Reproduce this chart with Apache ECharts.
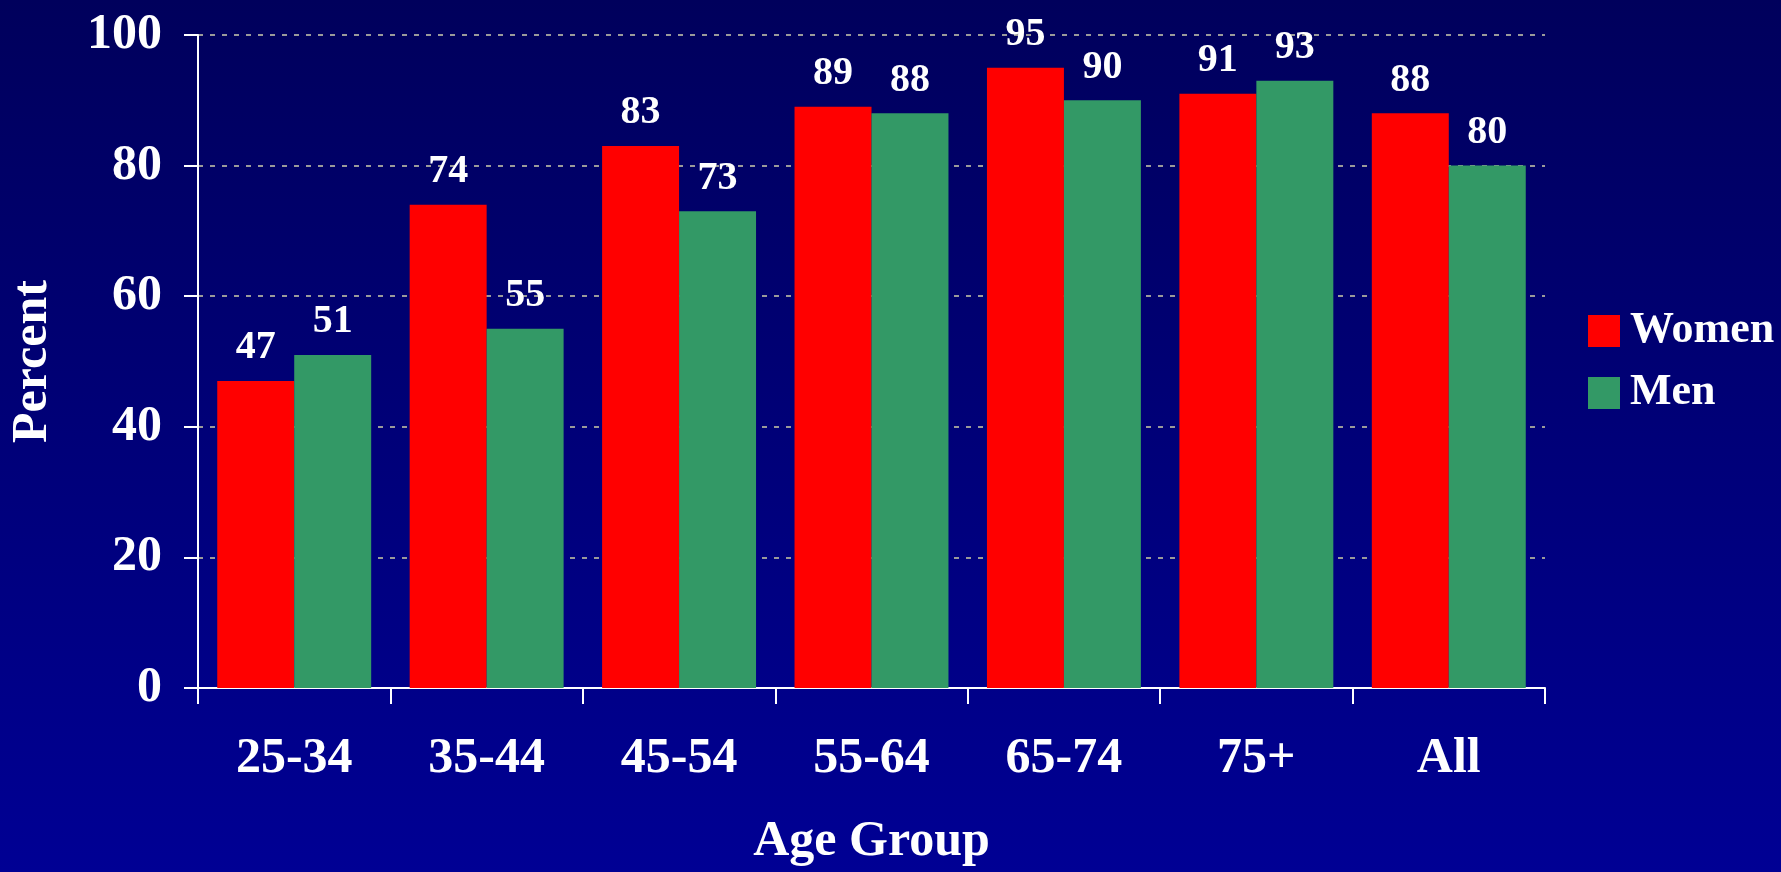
<!DOCTYPE html>
<html>
<head>
<meta charset="utf-8">
<script src="https://cdn.jsdelivr.net/npm/echarts@6/dist/echarts.min.js"></script>
<style>
  html, body { margin: 0; padding: 0; background: #000070; }
  #chart { width: 1781px; height: 872px; }
</style>
</head>
<body>
<div id="chart"></div>
<script>
// Age groups along the x axis
const categories = ['25-34', '35-44', '45-54', '55-64', '65-74', '75+', 'All'];
// Percent by sex
const women = [47, 74, 83, 89, 95, 91, 88];
const men = [51, 55, 73, 88, 90, 93, 80];
// Y axis ticks
const yTicks = [0, 20, 40, 60, 80, 100];

const FONT = '"Liberation Serif", "Times New Roman", serif';

const chart = echarts.init(document.getElementById('chart'), null, { renderer: 'canvas' });

const valueLabel = {
  show: true,
  position: 'top',
  distance: 13,
  color: '#ffffff',
  fontFamily: FONT,
  fontWeight: 'bold',
  fontSize: 40,
  lineHeight: 40
};

chart.setOption({
  animation: false,
  backgroundColor: {
    type: 'linear', x: 0, y: 0, x2: 0, y2: 1,
    colorStops: [
      { offset: 0, color: '#00005c' },
      { offset: 1, color: '#000094' }
    ]
  },
  grid: { left: 196, right: 236, top: 35, bottom: 177, containLabel: false },
  legend: {
    data: ['Women', 'Men'],
    orient: 'vertical',
    left: 1588,
    top: 309,
    padding: 0,
    itemWidth: 32,
    itemHeight: 32,
    itemGap: 18,
    icon: 'rect',
    textStyle: {
      color: '#ffffff',
      fontFamily: FONT,
      fontWeight: 'bold',
      fontSize: 44,
      padding: [0, 0, 0, 5]
    }
  },
  xAxis: {
    type: 'category',
    data: categories,
    name: 'Age Group',
    nameLocation: 'middle',
    nameGap: 129,
    nameTextStyle: { color: '#ffffff', fontFamily: FONT, fontWeight: 'bold', fontSize: 50, lineHeight: 50 },
    axisLine: { lineStyle: { color: '#ffffff', width: 2 } },
    axisTick: { show: true, length: 16, lineStyle: { color: '#ffffff', width: 2 }, alignWithLabel: false },
    axisLabel: {
      color: '#ffffff', fontFamily: FONT, fontWeight: 'bold', fontSize: 50, lineHeight: 50, margin: 46
    },
    splitLine: { show: false }
  },
  yAxis: {
    type: 'value',
    min: yTicks[0],
    max: yTicks[yTicks.length - 1],
    interval: 20,
    name: 'Percent',
    nameLocation: 'middle',
    nameGap: 140,
    nameRotate: 90,
    nameTextStyle: { color: '#ffffff', fontFamily: FONT, fontWeight: 'bold', fontSize: 50, lineHeight: 50 },
    axisLine: { show: true, lineStyle: { color: '#ffffff', width: 2 } },
    axisTick: { show: true, length: 14, lineStyle: { color: '#ffffff', width: 2 } },
    axisLabel: {
      color: '#ffffff', fontFamily: FONT, fontWeight: 'bold', fontSize: 50, lineHeight: 50, margin: 36
    },
    splitLine: {
      show: true,
      lineStyle: { color: '#9a9a9a', width: 2, type: [5, 7] }
    }
  },
  series: [
    {
      name: 'Women',
      type: 'bar',
      data: women,
      barGap: '0%',
      barCategoryGap: '20%',
      itemStyle: { color: '#ff0000' },
      label: valueLabel
    },
    {
      name: 'Men',
      type: 'bar',
      data: men,
      barGap: '0%',
      barCategoryGap: '20%',
      itemStyle: { color: '#339966' },
      label: valueLabel
    }
  ]
});
</script>
</body>
</html>
